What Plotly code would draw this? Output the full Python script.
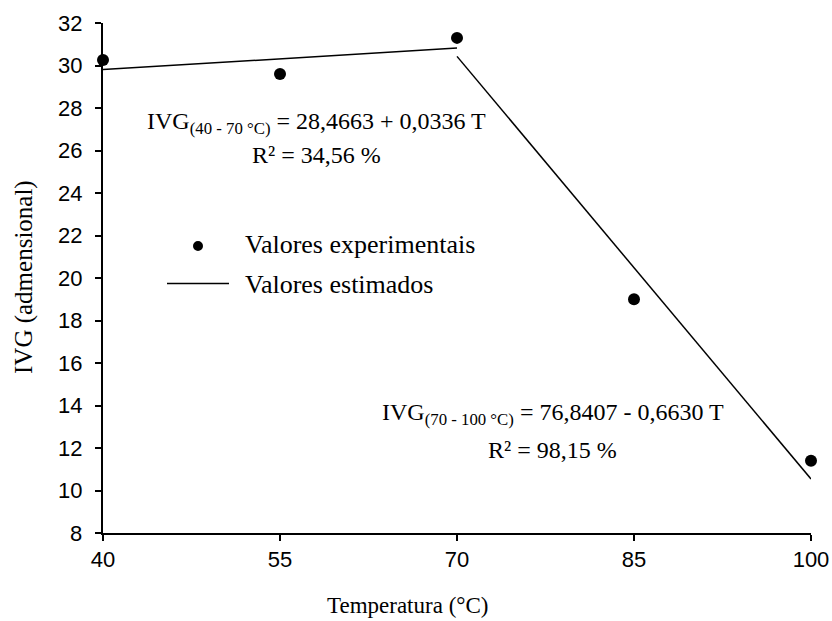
import plotly.graph_objects as go

# Germination speed index (IVG) versus temperature
temperatura = [40, 55, 70, 85, 100]
ivg_experimental = [30.26, 29.6, 31.3, 19.0, 11.4]

# Fitted segments (values from the two regression equations)
t_seg1 = [40, 70]
ivg_seg1 = [29.81, 30.82]   # 28,4663 + 0,0336 T
t_seg2 = [70, 100]
ivg_seg2 = [30.43, 10.54]   # 76,8407 - 0,6630 T

x_ticks = [40, 55, 70, 85, 100]
y_ticks = list(range(8, 33, 2))

serif = "Liberation Serif, Times New Roman, serif"
sans = "Liberation Sans, Arial, sans-serif"

# plot area in pixels
L, R, T, B = 103, 811, 23.3, 532.7
W, H = R - L, B - T


def px_x(p):
    return (p - L) / W


def px_y(p):
    return (B - p) / H


fig = go.Figure()

for tx, ty in ((t_seg1, ivg_seg1), (t_seg2, ivg_seg2)):
    fig.add_trace(go.Scatter(
        x=tx, y=ty, mode="lines",
        line=dict(color="black", width=1.5),
        showlegend=False, cliponaxis=False, hoverinfo="skip",
    ))

fig.add_trace(go.Scatter(
    x=temperatura, y=ivg_experimental, mode="markers",
    marker=dict(color="black", size=12),
    showlegend=False, cliponaxis=False,
))

tick_font = dict(family=sans, size=22, color="black")
axis_common = dict(
    showgrid=False, zeroline=False, showline=True, automargin=False,
    linecolor="black", linewidth=1.5,
    ticks="outside", ticklen=6, tickwidth=1.5, tickcolor="black",
    tickfont=tick_font,
)

fig.update_xaxes(range=[40, 100], tickvals=x_ticks, **axis_common)
fig.update_yaxes(range=[8, 32], tickvals=y_ticks, showticklabels=False, **axis_common)

# y tick labels placed with a wider gap from the tick marks
for v in y_ticks:
    fig.add_annotation(text=str(v), xref="paper", yref="y",
                       x=px_x(84), y=v, xanchor="right", yanchor="middle",
                       showarrow=False, font=tick_font)

# Axis titles
fig.add_annotation(text="Temperatura (°C)", xref="paper", yref="paper",
                   x=px_x(407), y=px_y(605), xanchor="center", yanchor="middle",
                   showarrow=False, font=dict(family=serif, size=23, color="black"))
fig.add_annotation(text="IVG (admensional)", xref="paper", yref="paper",
                   x=px_x(24), y=px_y(277), xanchor="center", yanchor="middle",
                   textangle=-90, showarrow=False,
                   font=dict(family=serif, size=25, color="black"))

# Hand-drawn legend
fig.add_shape(type="circle", xref="paper", yref="paper",
              x0=px_x(198 - 5), x1=px_x(198 + 5),
              y0=px_y(246 + 5), y1=px_y(246 - 5),
              fillcolor="black", line=dict(color="black", width=0))
fig.add_shape(type="line", xref="paper", yref="paper",
              x0=px_x(167), x1=px_x(229), y0=px_y(283.5), y1=px_y(283.5),
              line=dict(color="black", width=1.3))
for label, ypx in (("Valores experimentais", 245), ("Valores estimados", 284)):
    fig.add_annotation(text=label, xref="paper", yref="paper",
                       x=px_x(243), y=px_y(ypx),
                       xanchor="left", yanchor="middle", showarrow=False,
                       font=dict(family=serif, size=26, color="black"))

# Regression equations
eq_font = dict(family=serif, size=24, color="black")
fig.add_annotation(text="IVG<sub>(40 - 70 °C)</sub> = 28,4663 + 0,0336 T",
                   x=58.1, y=27.3, showarrow=False, font=eq_font)
fig.add_annotation(text="R² = 34,56 %", x=58.1, y=25.8, showarrow=False, font=eq_font)
fig.add_annotation(text="IVG<sub>(70 - 100 °C)</sub> = 76,8407 - 0,6630 T",
                   x=78.1, y=13.6, showarrow=False, font=eq_font)
fig.add_annotation(text="R² = 98,15 %", x=78.1, y=11.9, showarrow=False, font=eq_font)

fig.update_layout(
    width=832, height=621,
    margin=dict(l=L, r=832 - R, t=T, b=621 - B),
    plot_bgcolor="white", paper_bgcolor="white",
    showlegend=False,
)

fig.write_html("out.html")
